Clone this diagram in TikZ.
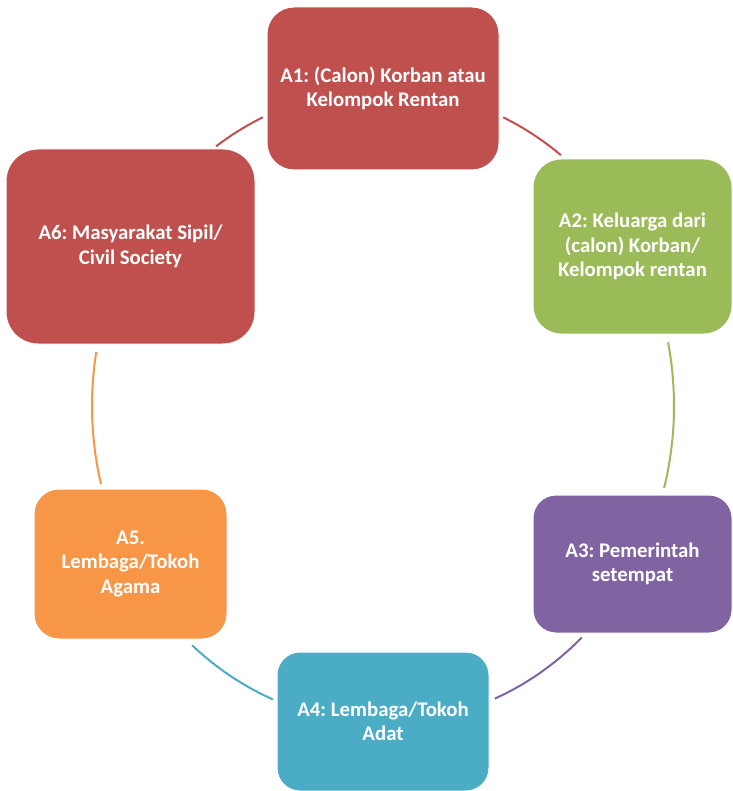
\documentclass[tikz,border=0pt]{standalone}
\usepackage{fontspec}
\setmainfont{Carlito}
\frenchspacing
\definecolor{cRed}{HTML}{C0504D}
\definecolor{cGreen}{HTML}{9BBB59}
\definecolor{cPurple}{HTML}{8064A2}
\definecolor{cTeal}{HTML}{4BACC6}
\definecolor{cOrange}{HTML}{F79646}
\begin{document}
\begin{tikzpicture}[x=1pt,y=1pt,
  actor/.style={rectangle, draw=white, line width=1pt, inner sep=0pt,
    text=white, align=center, font=\fontsize{20.8}{24.5}\selectfont\bfseries},
  ring/.style={line width=2pt},
]
\useasboundingbox (0,0) rectangle (732,-791);

% centre of the elliptical ring that links the six actors
\coordinate (ctr) at (383,-406);

% ring segments between consecutive boxes
\draw[ring, cRed]    ([shift={(65.6:291pt and 317pt)}]ctr)   arc[start angle=65.6,   end angle=52.3,  x radius=291pt, y radius=317pt];
\draw[ring, cGreen]  ([shift={(11.6:291pt and 317pt)}]ctr)   arc[start angle=11.6,   end angle=-15,   x radius=291pt, y radius=317pt];
\draw[ring, cPurple] ([shift={(-46.9:291pt and 317pt)}]ctr)  arc[start angle=-46.9,  end angle=-67.4, x radius=291pt, y radius=317pt];
\draw[ring, cTeal]   ([shift={(-112.2:291pt and 317pt)}]ctr) arc[start angle=-112.2, end angle=-131,  x radius=291pt, y radius=317pt];
\draw[ring, cOrange] ([shift={(194.3:291pt and 317pt)}]ctr)  arc[start angle=194.3,  end angle=170.2, x radius=291pt, y radius=317pt];
\draw[ring, cRed]    ([shift={(125:291pt and 317pt)}]ctr)    arc[start angle=125,    end angle=114.4, x radius=291pt, y radius=317pt];

% the six actors
\node[actor, fill=cRed, minimum width=232, minimum height=163, rounded corners=27]
  (A1) at (383,-88.5) {A1: (Calon) Korban atau\\Kelompok Rentan};
\node[actor, fill=cGreen, minimum width=199, minimum height=175, rounded corners=28]
  (A2) at (632.5,-246.5) {A2: Keluarga dari\\(calon) Korban/\\Kelompok rentan};
\node[actor, fill=cPurple, minimum width=199, minimum height=138, rounded corners=23]
  (A3) at (632.5,-564) {A3: Pemerintah\\setempat};
\node[actor, fill=cTeal, minimum width=212, minimum height=139, rounded corners=23]
  (A4) at (383,-721.5) {A4: Lembaga/Tokoh\\Adat};
\node[actor, fill=cOrange, minimum width=193, minimum height=150, rounded corners=25]
  (A5) at (130.5,-564) {A5.\\Lembaga/Tokoh\\Agama};
\node[actor, fill=cRed, minimum width=249, minimum height=195, rounded corners=32]
  (A6) at (130.5,-246.5) {A6: Masyarakat Sipil/\\Civil Society};
\end{tikzpicture}
\end{document}
